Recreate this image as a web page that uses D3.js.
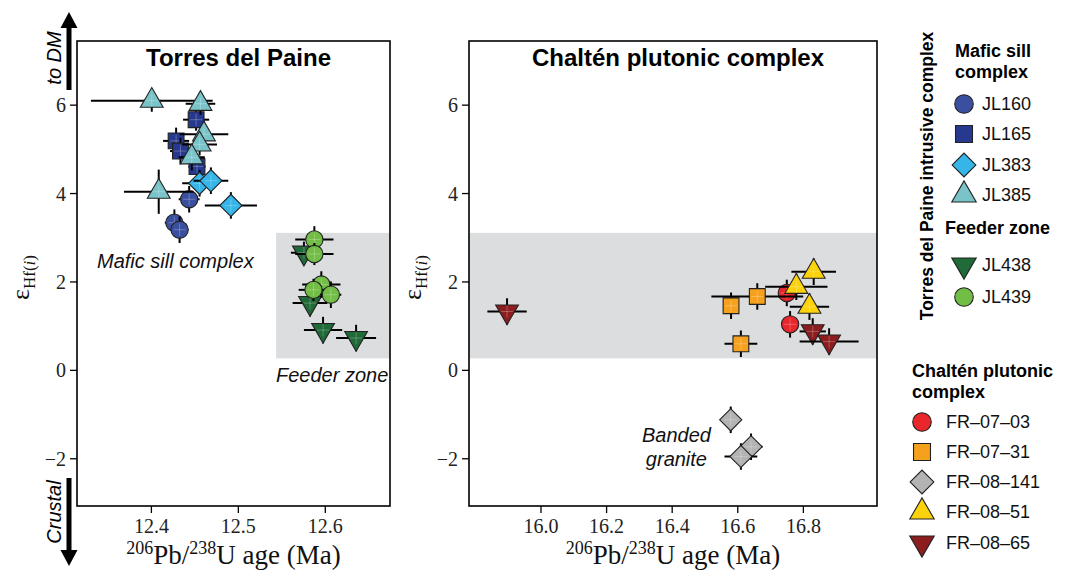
<!DOCTYPE html>
<html>
<head>
<meta charset="utf-8">
<script src="https://cdn.jsdelivr.net/npm/d3@7"></script>
<style>
  body { margin: 0; background: #fff; }
  .sans { font-family: "Liberation Sans", Arial, sans-serif; }
  .serif { font-family: "Liberation Serif", "Times New Roman", serif; }
</style>
</head>
<body>
<div id="chart"></div>
<script>
// each point: [age (Ma), age error, eHf(i), eHf error]
const jl160 = [[12.444, 0.012, 3.86, 0.3], [12.427, 0.011, 3.33, 0.3], [12.433, 0.01, 3.17, 0.3]];
const jl165 = [[12.452, 0.015, 5.66, 0.25], [12.429, 0.015, 5.18, 0.3], [12.434, 0.012, 4.95, 0.3], [12.453, 0.01, 4.6, 0.25]];
const jl383 = [[12.456, 0.02, 4.22, 0.3], [12.469, 0.02, 4.28, 0.3], [12.492, 0.03, 3.72, 0.3]];
const jl385 = [[12.401, 0.07, 6.09, 0.25], [12.457, 0.017, 6.02, 0.25], [12.461, 0.028, 5.33, 0.3],
               [12.456, 0.02, 5.1, 0.25], [12.447, 0.015, 4.81, 0.3], [12.409, 0.04, 4.03, 0.5]];
const jl438 = [[12.576, 0.015, 2.65, 0.25], [12.583, 0.02, 1.51, 0.3], [12.598, 0.022, 0.9, 0.3], [12.636, 0.023, 0.72, 0.3]];
const jl439 = [[12.588, 0.022, 2.95, 0.3], [12.588, 0.022, 2.62, 0.25], [12.596, 0.022, 1.93, 0.3],
               [12.587, 0.017, 1.81, 0.25], [12.607, 0.012, 1.70, 0.3]];

const fr0703 = [[16.751, 0.015, 1.74, 0.3], [16.761, 0.012, 1.03, 0.3]];
const fr0731 = [[16.581, 0.012, 1.45, 0.3], [16.661, 0.14, 1.66, 0.3], [16.611, 0.05, 0.59, 0.3]];
const fr08141 = [[16.58, 0.01, -1.13, 0.3], [16.642, 0.035, -1.74, 0.3], [16.611, 0.05, -1.96, 0.3]];
const fr0851 = [[16.833, 0.068, 2.22, 0.3], [16.78, 0.095, 1.88, 0.3], [16.82, 0.06, 1.43, 0.3]];
const fr0865 = [[15.898, 0.06, 1.32, 0.3], [16.83, 0.04, 0.87, 0.3], [16.88, 0.09, 0.64, 0.3]];

const yTicks = [-2, 0, 2, 4, 6];
const leftXTicks = [12.4, 12.5, 12.6];
const rightXTicks = [16.0, 16.2, 16.4, 16.6, 16.8];
const bandRange = [0.26, 3.1];       // grey eHf band
const leftBandStart = 12.544;

const torresSamples = [
  { name: "JL160", shape: "circle", color: "#3a4fa0", data: jl160 },
  { name: "JL165", shape: "square", color: "#26398e", data: jl165 },
  { name: "JL383", shape: "diamond", color: "#35b5e8", data: jl383 },
  { name: "JL385", shape: "up", color: "#7ac4c9", data: jl385 },
  { name: "JL438", shape: "down", color: "#1f6a36", data: jl438 },
  { name: "JL439", shape: "circle", color: "#72bd45", data: jl439 }
];
const chaltenSamples = [
  { name: "FR\u201307\u201303", shape: "circle", color: "#e8262b", data: fr0703 },
  { name: "FR\u201307\u201331", shape: "square", color: "#f6a11e", data: fr0731 },
  { name: "FR\u201308\u2013141", shape: "diamond", color: "#b3b3b3", data: fr08141 },
  { name: "FR\u201308\u201351", shape: "up", color: "#fbd20c", data: fr0851 },
  { name: "FR\u201308\u201365", shape: "down", color: "#8c1c1e", data: fr0865 }
];

const width = 1068, height = 571;
const svg = d3.select("#chart").append("svg")
  .attr("width", width)
  .attr("height", height);

const y = d3.scaleLinear().domain([-3.08, 7.44]).range([506, 41]);

function symbolPath(shape, k) {
  if (shape === "circle") return d3.symbol(d3.symbolCircle, 235 * k)();
  if (shape === "square") return d3.symbol(d3.symbolSquare, 250 * k)();
  if (shape === "diamond") return d3.symbol(d3.symbolSquare, 245 * k)();
  return d3.symbol(d3.symbolTriangle, 225 * k)();
}
function symbolRotate(shape) {
  if (shape === "diamond") return 45;
  if (shape === "down") return 180;
  return 0;
}

function drawPoint(g, cx, cy, s, k) {
  g.append("path")
    .attr("d", symbolPath(s.shape, k || 1))
    .attr("transform", `translate(${cx},${cy}) rotate(${symbolRotate(s.shape)})`)
    .attr("fill", s.color)
    .attr("stroke", "#222")
    .attr("stroke-width", 1.1);
}

function drawPanel(opts) {
  const { x0, x1, domain, ticks, title, samples, bandFrom } = opts;
  const x = d3.scaleLinear().domain(domain).range([x0, x1]);
  const g = svg.append("g");

  // grey band
  const bx = bandFrom == null ? x0 : x(bandFrom);
  g.append("rect")
    .attr("x", bx)
    .attr("y", y(bandRange[1]))
    .attr("width", x1 - bx)
    .attr("height", y(bandRange[0]) - y(bandRange[1]))
    .attr("fill", "#dcdddf");

  // axes
  g.append("g")
    .attr("transform", `translate(0,${y.range()[0]})`)
    .call(d3.axisBottom(x).tickValues(ticks).tickFormat(d3.format(".1f")).tickSize(7).tickPadding(6))
    .call(a => a.select(".domain").remove())
    .call(a => a.selectAll("line").attr("stroke", "#000").attr("stroke-width", 1.3))
    .call(a => a.selectAll("text").attr("class", "serif").attr("font-size", 20).attr("fill", "#222"));

  g.append("g")
    .attr("transform", `translate(${x0},0)`)
    .call(d3.axisLeft(y).tickValues(yTicks).tickFormat(d => d < 0 ? "\u2212" + Math.abs(d) : d).tickSize(7).tickPadding(4))
    .call(a => a.select(".domain").remove())
    .call(a => a.selectAll("line").attr("stroke", "#000").attr("stroke-width", 1.3))
    .call(a => a.selectAll("text").attr("class", "serif").attr("font-size", 20).attr("fill", "#222")
      .attr("dy", "0.35em"));

  // error bars then symbols, sample by sample
  samples.forEach(s => {
    s.data.forEach(d => {
      const cx = x(d[0]), cy = y(d[2]);
      g.append("line")
        .attr("x1", x(d[0] - d[1])).attr("x2", x(d[0] + d[1]))
        .attr("y1", cy).attr("y2", cy)
        .attr("stroke", "#000").attr("stroke-width", 2);
      g.append("line")
        .attr("x1", cx).attr("x2", cx)
        .attr("y1", y(d[2] - d[3])).attr("y2", y(d[2] + d[3]))
        .attr("stroke", "#000").attr("stroke-width", 2);
      drawPoint(g, cx, cy, s);
      // faint crosshair through the symbol
      g.append("path")
        .attr("d", `M${cx - 6},${cy}H${cx + 6}M${cx},${cy - 6}V${cy + 6}`)
        .attr("stroke", "#fff").attr("stroke-opacity", 0.25).attr("stroke-width", 1);
    });
  });

  // frame
  g.append("rect")
    .attr("x", x0).attr("y", y.range()[1])
    .attr("width", x1 - x0).attr("height", y.range()[0] - y.range()[1])
    .attr("fill", "none").attr("stroke", "#000").attr("stroke-width", 1.6);

  // title
  g.append("text")
    .attr("class", "sans")
    .attr("x", (x0 + x1) / 2 + 5).attr("y", 66)
    .attr("text-anchor", "middle")
    .attr("font-weight", "bold").attr("font-size", 24)
    .text(title);

  // x label
  const xl = g.append("text")
    .attr("class", "serif")
    .attr("x", (x0 + x1) / 2).attr("y", 564)
    .attr("text-anchor", "middle")
    .attr("font-size", 27).attr("fill", "#111");
  xl.append("tspan").attr("font-size", 18).attr("dy", -10).text("206");
  xl.append("tspan").attr("dy", 10).text("Pb/");
  xl.append("tspan").attr("font-size", 18).attr("dy", -10).text("238");
  xl.append("tspan").attr("dy", 10).text("U age (Ma)");

  // y label
  const yl = g.append("text")
    .attr("class", "serif")
    .attr("transform", `translate(${x0 - 48},${y(2) - 4}) rotate(-90)`)
    .attr("text-anchor", "middle")
    .attr("font-size", 26).attr("fill", "#111");
  yl.append("tspan").text("\u03b5");
  yl.append("tspan").attr("font-size", 17).attr("dy", 6).text("Hf(");
  yl.append("tspan").attr("font-size", 17).attr("font-style", "italic").text("i");
  yl.append("tspan").attr("font-size", 17).text(")");

  return x;
}

drawPanel({
  x0: 77, x1: 390, domain: [12.315, 12.675], ticks: leftXTicks,
  title: "Torres del Paine", samples: torresSamples, bandFrom: leftBandStart
});
drawPanel({
  x0: 469, x1: 877, domain: [15.782, 17.026], ticks: rightXTicks,
  title: "Chalt\u00e9n plutonic complex", samples: chaltenSamples, bandFrom: null
});

// annotations
function italic(x, yy, txt, anchor) {
  svg.append("text").attr("class", "sans")
    .attr("x", x).attr("y", yy)
    .attr("text-anchor", anchor || "start")
    .attr("font-style", "italic").attr("font-size", 20).attr("fill", "#111")
    .text(txt);
}
italic(97, 268, "Mafic sill complex");
italic(276, 382, "Feeder zone");
italic(711, 442, "Banded", "end");
italic(707, 466, "granite", "end");

// direction arrows
const arrowX = 69;
svg.append("path")
  .attr("d", `M${arrowX - 2.5},90V28H${arrowX - 8.5}L${arrowX},12L${arrowX + 8.5},28H${arrowX + 2.5}V90Z`)
  .attr("fill", "#000");
svg.append("path")
  .attr("d", `M${arrowX - 2.5},478V550H${arrowX - 8.5}L${arrowX},566L${arrowX + 8.5},550H${arrowX + 2.5}V478Z`)
  .attr("fill", "#000");
svg.append("text").attr("class", "sans")
  .attr("transform", `translate(61,58) rotate(-90)`)
  .attr("text-anchor", "middle")
  .attr("font-style", "italic").attr("font-size", 20)
  .text("to DM");
svg.append("text").attr("class", "sans")
  .attr("transform", `translate(61,512) rotate(-90)`)
  .attr("text-anchor", "middle")
  .attr("font-style", "italic").attr("font-size", 20)
  .text("Crustal");

// legend
const leg = svg.append("g").attr("class", "sans");
leg.append("text")
  .attr("transform", "translate(933,176) rotate(-90)")
  .attr("text-anchor", "middle")
  .attr("font-weight", "bold").attr("font-size", 17.5)
  .text("Torres del Paine intrusive complex");

function legHead(x, yy, lines) {
  lines.forEach((t, i) => {
    leg.append("text").attr("x", x).attr("y", yy + i * 21)
      .attr("font-weight", "bold").attr("font-size", 18).text(t);
  });
}
function legItem(sx, tx, yy, s) {
  drawPoint(leg, sx, yy, s, 1.15);
  leg.append("text").attr("x", tx).attr("y", yy + 6)
    .attr("font-size", 18).attr("fill", "#111").text(s.name);
}

legHead(955, 57, ["Mafic sill", "complex"]);
const torresLegY = [104, 134, 165, 195, 265, 297];
torresSamples.forEach((s, i) => legItem(964, 982, torresLegY[i], s));
legHead(945, 234, ["Feeder zone"]);

legHead(912, 377, ["Chalt\u00e9n plutonic", "complex"]);
const chaltenLegY = [422, 452, 482, 512, 543];
chaltenSamples.forEach((s, i) => legItem(922, 946, chaltenLegY[i], s));
</script>
</body>
</html>
